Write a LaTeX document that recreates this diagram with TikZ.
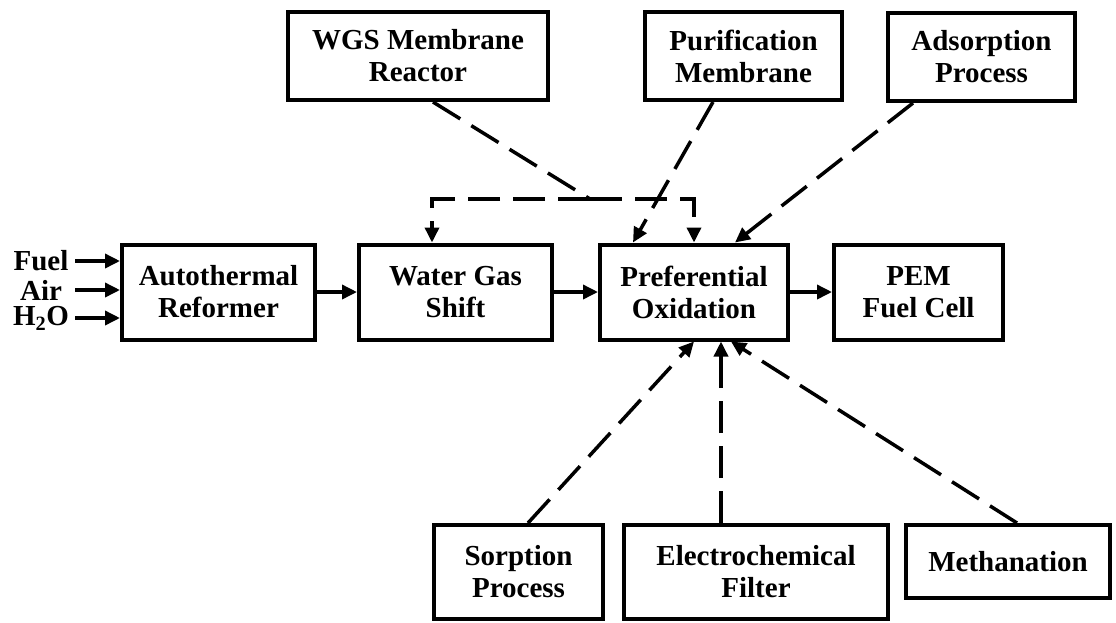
\documentclass[tikz,border=0pt]{standalone}
\usepackage{fontspec}
\setmainfont{Liberation Serif}
\usetikzlibrary{arrows.meta}
\begin{document}
\begin{tikzpicture}[x=1pt,y=-1pt,line join=miter,
  font=\fontsize{29}{32}\selectfont\bfseries,
  unit/.style={draw,line width=4pt,align=center,inner sep=0pt},
  feed/.style={line width=3.5pt,-{Triangle[length=15pt,width=14pt]}},
  alt/.style={line width=3.5pt,dash pattern=on 32pt off 13pt,-{Triangle[length=15pt,width=14pt]}}]
  \useasboundingbox (0,0) rectangle (1116,622);
  % main train
  \node[unit,minimum width=193pt,minimum height=95pt] (atr) at (218.5,292) {Autothermal\\Reformer};
  \node[unit,minimum width=193pt,minimum height=95pt] (wgs) at (455.5,292) {Water Gas\\Shift};
  \node[unit,minimum width=188pt,minimum height=95pt] (prox) at (694,292) {Preferential\\Oxidation};
  \node[unit,minimum width=169pt,minimum height=95pt] (pem) at (918.5,292) {PEM\\Fuel Cell};
  % alternatives above
  \node[unit,minimum width=260pt,minimum height=88pt] (wgsmr) at (418,56) {WGS Membrane\\Reactor};
  \node[unit,minimum width=197pt,minimum height=88pt] (purif) at (743.5,56) {Purification\\Membrane};
  \node[unit,minimum width=187pt,minimum height=88pt] (adsorp) at (981.5,57) {Adsorption\\Process};
  % alternatives below
  \node[unit,minimum width=169pt,minimum height=94pt] (sorp) at (518.5,572) {Sorption\\Process};
  \node[unit,minimum width=264pt,minimum height=94pt] (efilt) at (756,572) {Electrochemical\\Filter};
  \node[unit,minimum width=204pt,minimum height=73pt] (meth) at (1008,561.5) {Methanation};
  % feeds
  \foreach \name/\txt/\y in {fuel/Fuel/261,air/Air/290,water/{H\textsubscript{2}O}/318} {
    \node[minimum width=68pt,inner sep=0pt] (\name) at (41,\y) {\txt};
    \draw[feed] (\name.east) -- (\name.east -| atr.west);
  }
  \draw[feed] (atr.east) -- (wgs.west);
  \draw[feed] (wgs.east) -- (prox.west);
  \draw[feed] (prox.east) -- (pem.west);
  % dashed options
  \draw[alt,-] ([xshift=15pt]wgsmr.south) -- (590,199) coordinate (split);
  \draw[alt] (split) -| ([xshift=-23.5pt]wgs.north);
  \draw[alt] (split) -| (prox.north);
  \draw[alt] ([xshift=-30.5pt]purif.south) -- ([xshift=-61pt]prox.north);
  \draw[alt] ([xshift=-68.5pt]adsorp.south) -- ([xshift=41pt]prox.north);
  \draw[alt] ([xshift=9.5pt]sorp.north) -- (prox.south);
  \draw[alt] ([xshift=-35pt]efilt.north) -- ([xshift=-35pt]efilt.north |- prox.south);
  \draw[alt] ([xshift=9pt]meth.north) -- ([xshift=37pt]prox.south);
\end{tikzpicture}
\end{document}
